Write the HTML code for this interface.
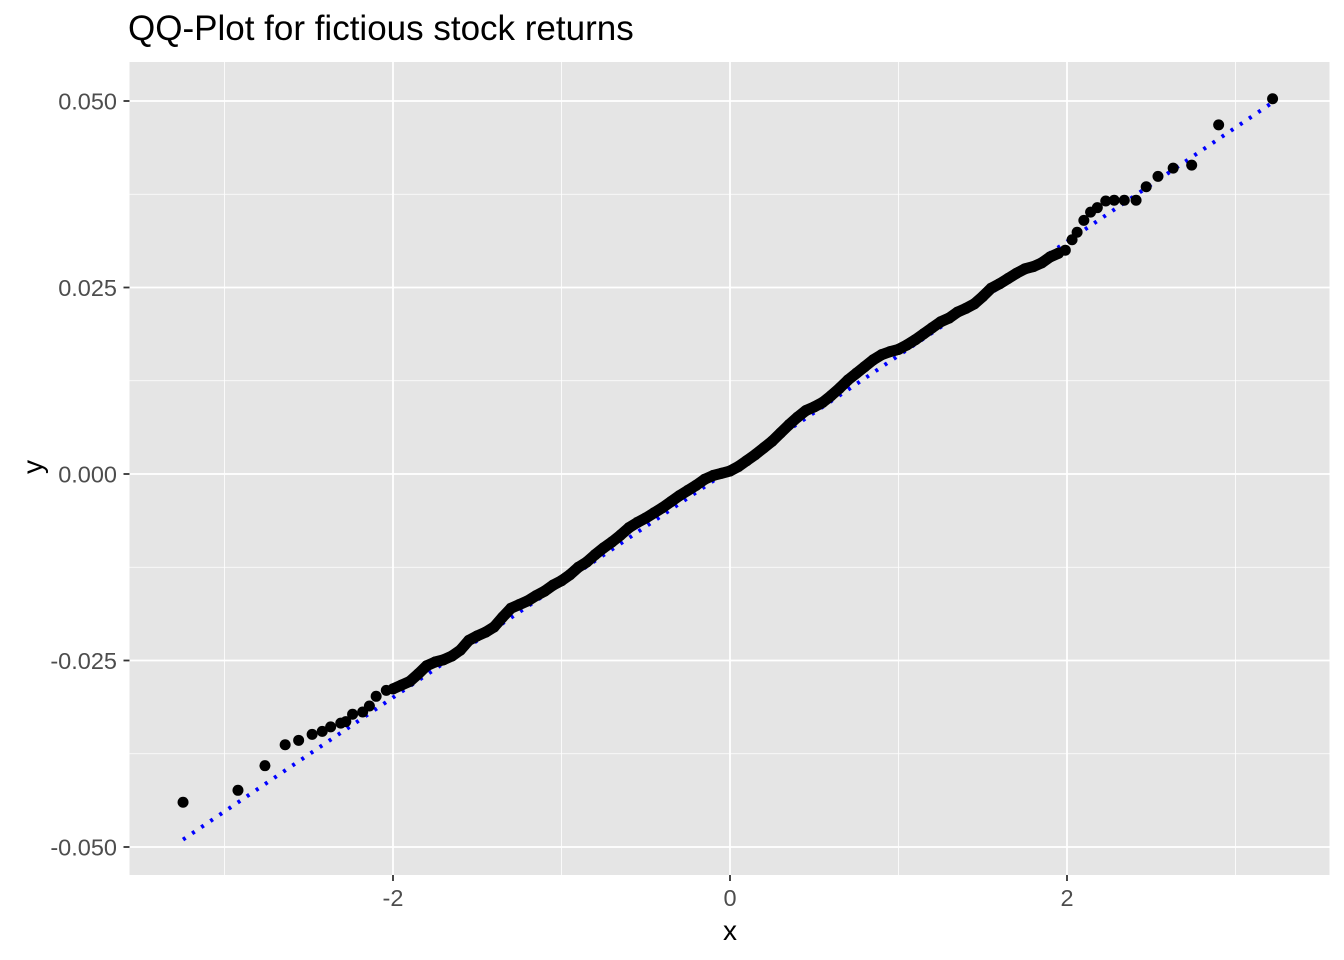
<!DOCTYPE html>
<html><head><meta charset="utf-8"><style>
body{margin:0;background:#fff}
svg{display:block;font-family:"Liberation Sans",Arial,sans-serif}
</style></head><body>
<svg id="chart" width="1344" height="960">
<text x="128" y="40" font-size="35" fill="#000">QQ-Plot for fictious stock returns</text>
<rect x="129.5" y="62" width="1200" height="813" fill="#E5E5E5"/>
<g id="grid"></g>
<g id="refline"></g>
<g id="points"></g>
<g id="axes"></g>
<text x="730" y="940" font-size="28" text-anchor="middle">x</text>
<text transform="translate(42,467) rotate(-90)" font-size="28" text-anchor="middle">y</text>
</svg>
<script>
const tailX=[-3.246,-2.92,-2.76,-2.64,-2.56,-2.48,-2.42,-2.37,-2.31,-2.28,-2.24,-2.18,-2.14,-2.10,-2.04,
 1.99,2.03,2.06,2.10,2.14,2.18,2.23,2.28,2.34,2.41,2.47,2.54,2.63,2.74,2.90,3.22];
const tailY=[-0.0440,-0.0424,-0.0391,-0.0363,-0.0357,-0.0349,-0.0345,-0.0339,-0.0334,-0.0332,-0.0322,-0.0319,-0.0311,-0.0298,-0.0290,
 0.0300,0.0314,0.0324,0.0340,0.0351,0.0357,0.0366,0.0367,0.0367,0.0367,0.0385,0.0399,0.0410,0.0414,0.0468,0.0503];
const midStart=-2.0, midStep=0.05;
const midY=[-0.0288,-0.0283,-0.0278,-0.0268,-0.0257,-0.0252,-0.0249,-0.0244,-0.0236,-0.0223,-0.0217,-0.0212,-0.0205,-0.0192,-0.0180,-0.0175,-0.0170,-0.0163,-0.0157,-0.0149,
-0.0143,-0.0135,-0.0125,-0.0118,-0.0108,-0.0099,-0.0091,-0.0082,-0.0072,-0.0065,-0.0059,-0.0052,-0.0045,-0.0037,-0.0029,-0.0022,-0.0015,-0.0007,-0.0002,0.0001,
0.0004,0.0010,0.0018,0.0026,0.0035,0.0044,0.0055,0.0066,0.0076,0.0085,0.0090,0.0096,0.0105,0.0115,0.0126,0.0135,0.0144,0.0153,0.0160,0.0164,
0.0167,0.0173,0.0180,0.0188,0.0196,0.0204,0.0209,0.0217,0.0222,0.0228,0.0238,0.0249,0.0255,0.0262,0.0269,0.0275,0.0278,0.0283,0.0291,0.0296];
const lineX=[-3.246,3.22];
const lineY=[-0.0490,0.0498];
const xTicks=[-2,0,2];
const xMinor=[-3,-1,1,3];
const yTicks=[-0.05,-0.025,0,0.025,0.05];
const yTickLabels=["-0.050","-0.025","0.000","0.025","0.050"];
const yMinor=[-0.0375,-0.0125,0.0125,0.0375];

const X=v=>730+v*168.5, Y=v=>474-v*7460;
const NS='http://www.w3.org/2000/svg';
function mk(tag,attrs,parent){const e=document.createElementNS(NS,tag);for(const k in attrs)e.setAttribute(k,attrs[k]);document.getElementById(parent).appendChild(e);return e;}
for(const v of xMinor){const e=mk('line',{x1:X(v),x2:X(v),y1:62,y2:875,stroke:'#fff','stroke-width':0.8},'grid');

}
for(const v of yMinor){const e=mk('line',{x1:129.5,x2:1329.5,y1:Y(v),y2:Y(v),stroke:'#fff','stroke-width':0.8},'grid');

}
for(const v of xTicks){const e=mk('line',{x1:X(v),x2:X(v),y1:62,y2:875,stroke:'#fff','stroke-width':1.8},'grid');


const t=mk('line',{x1:X(v),x2:X(v),y1:875,y2:881,stroke:'#333','stroke-width':1.8},'axes');


const l=mk('text',{x:X(v),y:906,'font-size':23.5,'text-anchor':'middle',fill:'#4D4D4D'},'axes');l.textContent=String(v);

}
yTicks.forEach((v,i)=>{const e=mk('line',{x1:129.5,x2:1329.5,y1:Y(v),y2:Y(v),stroke:'#fff','stroke-width':1.8},'grid');


const t=mk('line',{x1:123.5,x2:129.5,y1:Y(v),y2:Y(v),stroke:'#333','stroke-width':1.8},'axes');


const l=mk('text',{x:117,y:Y(v)+8.5,'font-size':23.5,'text-anchor':'end',fill:'#4D4D4D'},'axes');l.textContent=yTickLabels[i];

});
const rl=mk('line',{x1:X(lineX[0]),y1:Y(lineY[0]),x2:X(lineX[1]),y2:Y(lineY[1]),stroke:'#0000FF','stroke-width':4,'stroke-dasharray':'3 8'},'refline');


const band=mk('polyline',{points:midY.map((y,i)=>X(midStart+i*midStep)+','+Y(y)).join(' '),fill:'none',stroke:'#000','stroke-width':11,'stroke-linecap':'round','stroke-linejoin':'round'},'points');


function pt(x,y){const c=mk('circle',{cx:X(x),cy:Y(y),r:5.5,fill:'#000'},'points');

}
midY.forEach((y,i)=>pt(midStart+i*midStep,y));
tailX.forEach((x,i)=>pt(x,tailY[i]));
</script>
</body></html>
